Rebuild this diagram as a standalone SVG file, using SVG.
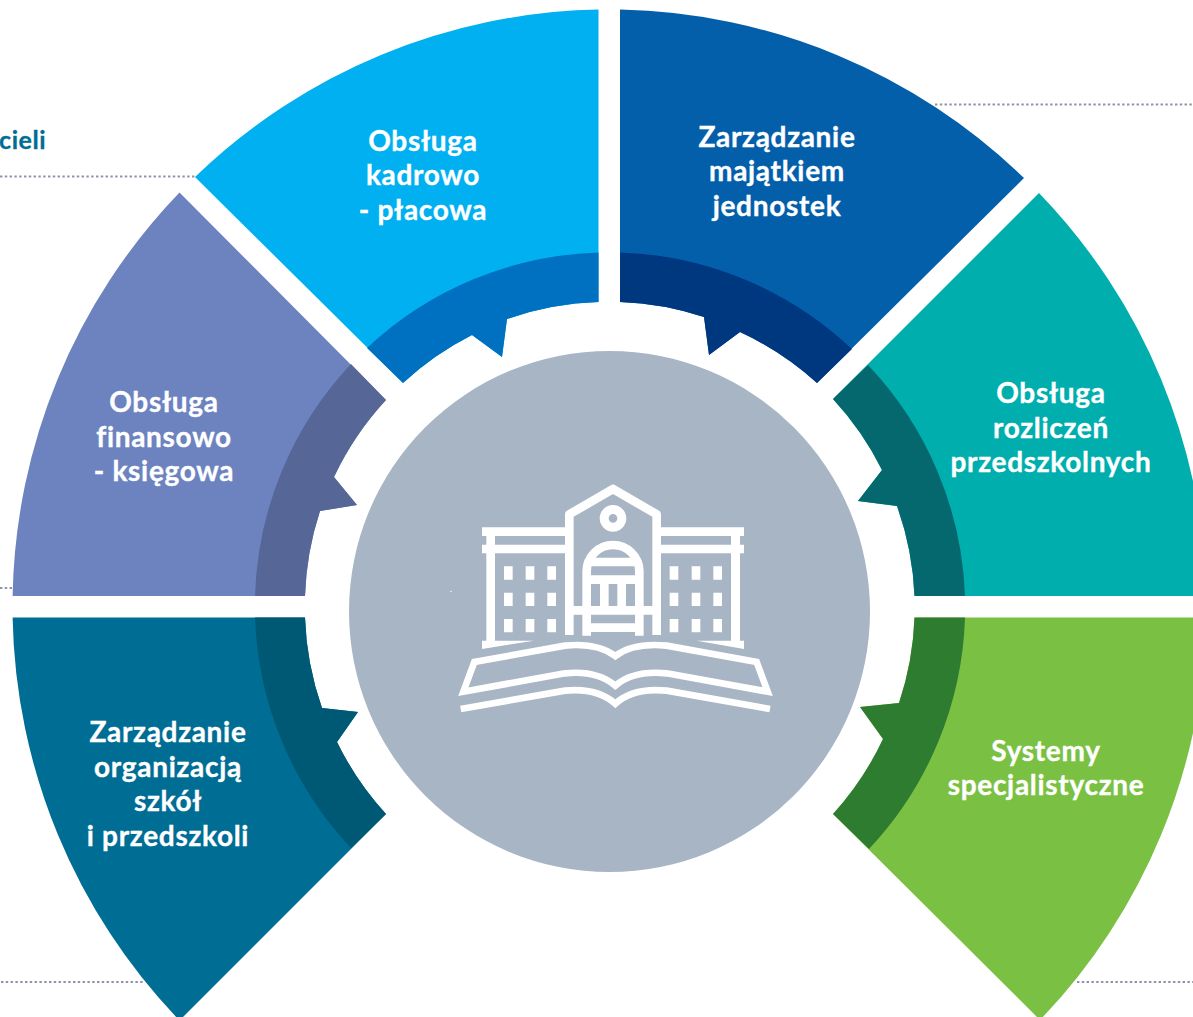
<svg xmlns="http://www.w3.org/2000/svg" width="1193" height="1017" viewBox="0 0 1193 1017">
<style>
.lbl{font-family:"Lato","Open Sans","Liberation Sans",sans-serif;font-weight:700;font-size:28px;letter-spacing:.7px;fill:#fff;stroke:#fff;stroke-width:.35;text-anchor:middle}
.dot{fill:none;stroke:#8f93a8;stroke-width:2.2;stroke-dasharray:2.4 2.4}
.ws{fill:none;stroke:#fff;stroke-width:26}
.wf{fill:#fff}
.bk{fill:none;stroke:#fff;stroke-width:20;stroke-linejoin:miter}
</style>
<rect width="1193" height="1017" fill="#fff"/>
<g id="connectors">
<path class="dot" d="M0 176.500H195"/>
<path class="dot" d="M935 104.500H1193"/>
<path class="dot" d="M0 588H13"/>
<path class="dot" d="M1 982H145"/>
<path class="dot" d="M1077 982H1193"/>
</g>
<g id="node-kadrowo">
<path fill="#00b0f0" d="M598.500 9.600A597 597 0 0 0 195 177L403 383A304 304 0 0 1 472 335L502 357L507 319A304 304 0 0 1 598.500 302Z"/>
<path fill="#0070c0" d="M598.500 252.500A354 354 0 0 0 367 348L403 383A304 304 0 0 1 472 335L502 357L507 319A304 304 0 0 1 598.500 302Z"/>
<text class="lbl" x="423" y="151">Obsługa</text>
<text class="lbl" x="423" y="185">kadrowo</text>
<text class="lbl" x="423" y="220">- płacowa</text>
</g>
<g id="node-majatek">
<path fill="#045fab" d="M620 9.600A597 597 0 0 1 1024 178L817 383A304 304 0 0 0 740 332L709 355L704 317A304 304 0 0 0 620 302Z"/>
<path fill="#00387f" d="M620 252.500A354 354 0 0 1 852 349L817 383A304 304 0 0 0 740 332L709 355L704 317A304 304 0 0 0 620 302Z"/>
<text class="lbl" x="777" y="147">Zarządzanie</text>
<text class="lbl" x="777" y="181">majątkiem</text>
<text class="lbl" x="777" y="216">jednostek</text>
</g>
<g id="node-rozliczenia">
<path fill="#00aeae" d="M1039 193A597 597 0 0 1 1206.500 596H914.500A304 304 0 0 0 897 506L858 501L882 470A304 304 0 0 0 833 399Z"/>
<path fill="#05686e" d="M868 365A354 354 0 0 1 965 596H914.500A304 304 0 0 0 897 506L858 501L882 470A304 304 0 0 0 833 399Z"/>
<text class="lbl" x="1051" y="403">Obsługa</text>
<text class="lbl" x="1051" y="438">rozliczeń</text>
<text class="lbl" x="1051" y="472">przedszkolnych</text>
</g>
<g id="node-systemy">
<path fill="#7ac143" d="M1206.500 617.500A597 597 0 0 1 1040 1020L833 814A304 304 0 0 0 883 739L860 707L899 703A304 304 0 0 0 914.500 617.500Z"/>
<path fill="#2e7c30" d="M965 617.500A354 354 0 0 1 869 849L833 814A304 304 0 0 0 883 739L860 707L899 703A304 304 0 0 0 914.500 617.500Z"/>
<text class="lbl" x="1046" y="761">Systemy</text>
<text class="lbl" x="1046" y="795">specjalistyczne</text>
</g>
<g id="node-organizacja">
<path fill="#006d94" d="M12.600 617.500A597 597 0 0 0 179.500 1020.500L386 814A304 304 0 0 1 337 742L358 712L322 708A304 304 0 0 1 305 617.500Z"/>
<path fill="#005974" d="M255 617.500A354 354 0 0 0 351 848L386 814A304 304 0 0 1 337 742L358 712L322 708A304 304 0 0 1 305 617.500Z"/>
<text class="lbl" x="168" y="742">Zarządzanie</text>
<text class="lbl" x="168" y="777">organizacją</text>
<text class="lbl" x="168" y="811">szkół</text>
<text class="lbl" x="168" y="846">i przedszkoli</text>
</g>
<g id="node-finanse">
<path fill="#6c83bf" d="M12.600 596A597 597 0 0 1 179.500 192.500L386 400A304 304 0 0 0 334 477L357 505L320 511A304 304 0 0 0 305 596Z"/>
<path fill="#566797" d="M255 596A354 354 0 0 1 351 364L386 400A304 304 0 0 0 334 477L357 505L320 511A304 304 0 0 0 305 596Z"/>
<text class="lbl" x="164" y="412">Obsługa</text>
<text class="lbl" x="164" y="447">finansowo</text>
<text class="lbl" x="164" y="481">- księgowa</text>
</g>
<g id="node-center">
<circle cx="609.500" cy="611.500" r="260.500" fill="#a8b5c4"/>
<circle cx="451" cy="591.500" r=".7" fill="#fff"/>
<g transform="translate(440 470) scale(.33333)">
<path class="ws" stroke-linejoin="round" d="M388 495V133L519 57L650 133V495"/>
<circle cx="519" cy="145" r="26.500" fill="none" stroke="#fff" stroke-width="27"/>
<path class="wf" d="M126 172H376V198H165V224H376V250H165V512H282L126 537V512H139V250H126V224H139V198H126Z"/>
<path class="wf" d="M912 172H662V198H873V224H662V250H873V512H770L912 537V512H900V250H912V224H900V198H912Z"/>
<path class="wf" d="M192 289h26v40h-26zM257 289h26v40h-26zM322 289h26v40h-26zM192 368h26v40h-26zM257 368h26v40h-26zM322 368h26v40h-26zM192 447h26v40h-26zM257 447h26v40h-26zM322 447h26v40h-26z"/>
<path class="wf" d="M689 289h26v40h-26zM755 289h26v40h-26zM820 289h26v40h-26zM689 368h26v40h-26zM755 368h26v40h-26zM820 368h26v40h-26zM689 447h26v40h-26zM755 447h26v40h-26zM820 447h26v40h-26z"/>
<path class="ws" d="M440 497V304A79 79 0 0 1 598 304V497"/>
<path class="wf" d="M453 263H585V289H453ZM453 316H585V342H453ZM480 342H506V408H480ZM532 342H558V408H532ZM388 408H650V434H388ZM453 460H585V486H453Z"/>
<path class="bk" d="M70 665L103 576L375 527Q470 517 526 558Q580 517 680 527L950 576L983 665L680 610Q580 600 526 647Q470 600 375 610Z"/>
<path class="bk" d="M62 717L375 662Q470 652 526 701Q580 652 680 662L990 717"/>
</g>
</g>
<text x="-1" y="149" style="font-family:Lato,'Open Sans',sans-serif;font-weight:700;font-size:25px;letter-spacing:.6px;stroke:#006d94;stroke-width:.3;fill:#006d94">cieli</text>
</svg>
